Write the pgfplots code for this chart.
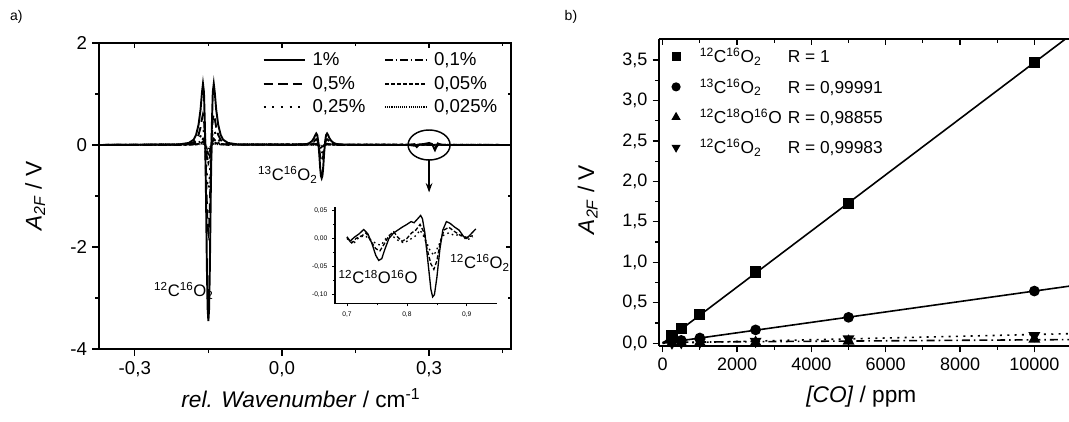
\documentclass[border=0pt]{standalone}
\usepackage{fontspec}
\setmainfont{Liberation Sans}
\usepackage{pgfplots}
\pgfplotsset{compat=1.18}
\usetikzlibrary{arrows.meta}

\begin{document}
\begin{tikzpicture}
\useasboundingbox (0,0) rectangle (801.75pt,315.75pt);
\pgfplotsset{
  every axis/.append style={
    scale only axis,
    scaled ticks=false,
    /pgf/number format/assume math mode=true,
    /pgf/number format/use comma,
    /pgf/number format/1000 sep={},
  },
}
% panel labels
\node[anchor=west, font=\fontsize{10.5}{12}\selectfont] at (4pt,303pt) {a)};
\node[anchor=west, font=\fontsize{10.5}{12}\selectfont] at (420pt,303pt) {b)};

% ---------------- left panel ----------------
\begin{axis}[
  at={(74.25pt,54pt)}, anchor=south west,
  width=309pt, height=229.5pt,
  xmin=-0.373, xmax=0.467, ymin=-4, ymax=2,
  xtick={-0.3,0,0.3}, minor xtick={-0.15,0.15,0.45},
  ytick={-4,-2,0,2}, minor ytick={-3,-1,1},
  xtick pos=left, ytick pos=left, tick align=outside,
  major tick length=5pt, minor tick length=3pt,
  xticklabel style={/pgf/number format/.cd, fixed, fixed zerofill, precision=1},
  tick label style={font=\fontsize{14}{16}\selectfont},
  axis line style={line width=1.5pt},
  every tick/.style={black, line width=0.9pt},
  xlabel={\textit{rel. Wavenumber} / cm\textsuperscript{-1}},
  ylabel={\textit{A}\textsubscript{\textit{2F}} / V},
  xlabel style={font=\fontsize{17}{19}\selectfont, at={(axis description cs:0.49,-0.16)}, anchor=center},
  ylabel style={font=\fontsize{17}{19}\selectfont, at={(axis description cs:-0.155,0.5)}, anchor=center},
  legend columns=2,
  legend style={draw=none, fill=none, at={(0.385,0.99)}, anchor=north west,
    font=\fontsize{14}{16}\selectfont, row sep=2.5pt, cells={anchor=west},
    /tikz/every odd column/.append style={column sep=3pt},
    /tikz/every even column/.append style={column sep=12pt}},
  legend image code/.code={\draw[#1] (0pt,0pt) -- (31pt,0pt);},
  line width=1.45pt,
]
% 1%
\addplot[black, solid] coordinates {
(-0.373,0) (-0.210,0.010) (-0.190,0.041) (-0.180,0.104) (-0.175,0.200) (-0.170,0.400) (-0.166,0.690) (-0.163,1.035) (-0.161,1.200) (-0.159,1.035) (-0.157,0.345) (-0.155,-0.863) (-0.153,-2.415) (-0.1515,-3.209) (-0.150,-3.450) (-0.1485,-3.209) (-0.147,-2.415) (-0.145,-0.863) (-0.143,0.345) (-0.141,1.035) (-0.139,1.200) (-0.137,1.035) (-0.134,0.690) (-0.130,0.400) (-0.125,0.200) (-0.120,0.104) (-0.110,0.041) (-0.090,0.010)
(0.021,0.002) (0.041,0.008) (0.051,0.020) (0.056,0.038) (0.061,0.075) (0.065,0.130) (0.068,0.195) (0.070,0.226) (0.072,0.195) (0.074,0.065) (0.076,-0.163) (0.078,-0.455) (0.0795,-0.605) (0.081,-0.650) (0.0825,-0.605) (0.084,-0.455) (0.086,-0.163) (0.088,0.065) (0.090,0.195) (0.092,0.226) (0.094,0.195) (0.097,0.130) (0.101,0.075) (0.106,0.038) (0.111,0.020) (0.121,0.008) (0.141,0.002)
(0.260,0) (0.270,0.015) (0.275,-0.040) (0.280,0.010) (0.290,0.020) (0.300,0.040) (0.306,0.020) (0.312,-0.100) (0.318,0.030) (0.325,0) (0.467,0)};
\addlegendentry{1\%}
% 0.1%
\addplot[black, dash pattern=on 6pt off 2pt on 1.2pt off 2pt] coordinates {
(-0.373,0) (-0.190,0.004) (-0.175,0.020) (-0.166,0.069) (-0.161,0.120) (-0.157,0.035) (-0.155,-0.086) (-0.153,-0.242) (-0.150,-0.345) (-0.147,-0.242) (-0.145,-0.086) (-0.143,0.035) (-0.139,0.120) (-0.134,0.069) (-0.125,0.020) (-0.110,0.004)
(0.065,0.013) (0.070,0.023) (0.074,0.007) (0.078,-0.046) (0.081,-0.065) (0.084,-0.046) (0.088,0.007) (0.092,0.023) (0.097,0.013) (0.110,0) (0.467,0)};
\addlegendentry{0,1\%}
% 0.5%
\addplot[black, dash pattern=on 7pt off 4pt] coordinates {
(-0.373,0) (-0.210,0.005) (-0.190,0.021) (-0.180,0.052) (-0.175,0.100) (-0.170,0.200) (-0.166,0.345) (-0.163,0.518) (-0.161,0.600) (-0.159,0.518) (-0.157,0.173) (-0.155,-0.432) (-0.153,-1.208) (-0.1515,-1.605) (-0.150,-1.725) (-0.1485,-1.605) (-0.147,-1.208) (-0.145,-0.432) (-0.143,0.173) (-0.141,0.518) (-0.139,0.600) (-0.137,0.518) (-0.134,0.345) (-0.130,0.200) (-0.125,0.100) (-0.120,0.052) (-0.110,0.021) (-0.090,0.005)
(0.041,0.004) (0.051,0.010) (0.056,0.019) (0.061,0.038) (0.065,0.065) (0.068,0.098) (0.070,0.113) (0.072,0.098) (0.074,0.033) (0.076,-0.082) (0.078,-0.228) (0.0795,-0.303) (0.081,-0.325) (0.0825,-0.303) (0.084,-0.228) (0.086,-0.082) (0.088,0.033) (0.090,0.098) (0.092,0.113) (0.094,0.098) (0.097,0.065) (0.101,0.038) (0.106,0.019) (0.111,0.010) (0.121,0.004)
(0.260,0) (0.275,-0.020) (0.290,0.010) (0.300,0.020) (0.312,-0.055) (0.320,0.015) (0.330,0) (0.467,0)};
\addlegendentry{0,5\%}
% 0.05%
\addplot[black, dash pattern=on 3pt off 1.5pt] coordinates {
(-0.373,0) (-0.175,0.010) (-0.166,0.035) (-0.161,0.060) (-0.157,0.017) (-0.155,-0.043) (-0.153,-0.121) (-0.150,-0.173) (-0.147,-0.121) (-0.145,-0.043) (-0.143,0.017) (-0.139,0.060) (-0.134,0.035) (-0.125,0.010)
(0.070,0.011) (0.078,-0.023) (0.081,-0.033) (0.084,-0.023) (0.092,0.011) (0.467,0)};
\addlegendentry{0,05\%}
% 0.25%
\addplot[black, dash pattern=on 1.5pt off 5pt] coordinates {
(-0.373,0) (-0.190,0.010) (-0.175,0.050) (-0.166,0.173) (-0.163,0.259) (-0.161,0.300) (-0.159,0.259) (-0.157,0.086) (-0.155,-0.216) (-0.153,-0.604) (-0.1515,-0.802) (-0.150,-0.863) (-0.1485,-0.802) (-0.147,-0.604) (-0.145,-0.216) (-0.143,0.086) (-0.141,0.259) (-0.139,0.300) (-0.137,0.259) (-0.134,0.173) (-0.125,0.050) (-0.110,0.010)
(0.056,0.010) (0.065,0.033) (0.070,0.057) (0.074,0.016) (0.076,-0.041) (0.078,-0.114) (0.081,-0.163) (0.084,-0.114) (0.086,-0.041) (0.088,0.016) (0.092,0.057) (0.097,0.033) (0.106,0.010) (0.467,0)};
\addlegendentry{0,25\%}
% 0.025%
\addplot[black, dash pattern=on 0.8pt off 0.8pt] coordinates {
(-0.373,0) (-0.166,0.017) (-0.161,0.030) (-0.157,0.009) (-0.155,-0.022) (-0.153,-0.060) (-0.150,-0.086) (-0.147,-0.060) (-0.145,-0.022) (-0.143,0.009) (-0.139,0.030) (-0.134,0.017)
(0.070,0.006) (0.081,-0.016) (0.092,0.006) (0.467,0)};
\addlegendentry{0,025\%}

\node[font=\fontsize{12.5}{14}\selectfont] at (axis cs:-0.200,-2.86) {\textsuperscript{12}C\textsuperscript{16}O\textsubscript{2}};
\node[font=\fontsize{12.5}{14}\selectfont] at (axis cs:0.012,-0.59) {\textsuperscript{13}C\textsuperscript{16}O\textsubscript{2}};
\node[font=\fontsize{12.5}{14}\selectfont] at (axis cs:0.196,-2.59) {\textsuperscript{12}C\textsuperscript{18}O\textsuperscript{16}O};
\node[font=\fontsize{12.5}{14}\selectfont] at (axis cs:0.404,-2.31) {\textsuperscript{12}C\textsuperscript{16}O\textsubscript{2}};
\draw[line width=1.1pt] (axis cs:0.3,0) ellipse [x radius=15.75pt, y radius=11.25pt];
\draw[line width=1.1pt, -{Stealth[length=7pt,width=5pt]}] (axis cs:0.3,-0.29) -- (axis cs:0.3,-0.93);
\end{axis}

% mirror ticks (inside) for left panel
\begin{axis}[
  at={(74.25pt,54pt)}, anchor=south west,
  width=309pt, height=229.5pt,
  xmin=-0.373, xmax=0.467, ymin=-4, ymax=2,
  xtick={-0.3,0,0.3}, minor xtick={-0.15,0.15,0.45},
  ytick={-4,-2,0,2}, minor ytick={-3,-1,1},
  xtick pos=right, ytick pos=right, tick align=inside,
  major tick length=4pt, minor tick length=2.5pt,
  xticklabels={}, yticklabels={},
  axis line style={line width=1.5pt},
  every tick/.style={black, line width=0.9pt},
]
\end{axis}

% inset
\begin{axis}[
  at={(251.25pt,88pt)}, anchor=south west,
  width=121.3pt, height=72.5pt,
  xmin=0.68, xmax=0.95, ymin=-0.116, ymax=0.056,
  axis x line*=bottom, axis y line*=left,
  xtick={0.7,0.8,0.9}, ytick={-0.1,-0.05,0,0.05},
  minor x tick num=1, minor y tick num=1,
  tick align=outside, major tick length=2pt, minor tick length=1.2pt,
  tick label style={font=\fontsize{5}{6}\selectfont},
  xticklabel style={/pgf/number format/.cd, fixed, fixed zerofill, precision=1},
  yticklabel style={/pgf/number format/.cd, fixed, fixed zerofill, precision=2},
  axis line style={line width=0.8pt},
  every tick/.style={black, line width=0.5pt},
  line width=1pt,
]
\addplot[black, solid] coordinates {
(0.700,0.003)(0.705,-0.005)(0.712,0.002)(0.720,0.008)(0.728,0.016)(0.735,0.008)(0.742,-0.010)(0.748,-0.030)(0.753,-0.039)(0.758,-0.036)(0.763,-0.020)(0.770,0.000)(0.778,0.010)(0.785,0.015)(0.792,0.020)(0.800,0.025)(0.807,0.030)(0.812,0.028)(0.818,0.035)(0.823,0.041)(0.826,0.035)(0.830,0.010)(0.835,-0.040)(0.840,-0.090)(0.843,-0.104)(0.846,-0.100)(0.850,-0.070)(0.855,-0.020)(0.860,0.015)(0.866,0.030)(0.872,0.027)(0.880,0.020)(0.887,0.015)(0.895,0.003)(0.900,0.000)(0.907,0.008)(0.915,0.017)};
\addplot[black, dash pattern=on 3pt off 1.5pt] coordinates {
(0.700,0.002)(0.708,-0.008)(0.715,0.000)(0.725,0.005)(0.732,0.010)(0.740,-0.005)(0.748,-0.018)(0.755,-0.022)(0.762,-0.010)(0.770,0.005)(0.778,0.012)(0.785,0.002)(0.792,-0.005)(0.800,0.000)(0.808,0.010)(0.815,0.015)(0.822,0.025)(0.828,0.012)(0.834,-0.020)(0.840,-0.045)(0.845,-0.055)(0.850,-0.040)(0.856,-0.005)(0.862,0.015)(0.870,0.020)(0.880,0.012)(0.890,0.005)(0.900,0.002)(0.910,0.005)};
\addplot[black, dash pattern=on 1.2pt off 2.5pt] coordinates {
(0.700,0.000)(0.710,-0.010)(0.720,0.002)(0.730,0.005)(0.740,-0.003)(0.750,-0.010)(0.757,-0.012)(0.765,0.000)(0.775,0.005)(0.785,-0.003)(0.795,-0.008)(0.805,-0.002)(0.815,0.005)(0.822,0.015)(0.830,0.000)(0.838,-0.020)(0.845,-0.030)(0.852,-0.015)(0.860,0.005)(0.870,0.010)(0.880,0.005)(0.890,0.008)(0.900,-0.003)(0.910,0.003)};
\end{axis}

% ---------------- right panel ----------------
\begin{axis}[
  at={(494.5pt,56.5pt)}, anchor=south west,
  width=307.3pt, height=229.8pt,
  xmin=-90, xmax=10934, ymin=-0.03, ymax=3.756,
  axis x line*=box, axis y line*=left,
  xtick={0,2000,4000,6000,8000,10000}, minor x tick num=1,
  ytick={0,0.5,1,1.5,2,2.5,3,3.5}, minor y tick num=1,
  xtick pos=left, tick align=outside,
  major tick length=5pt, minor tick length=3pt,
  xticklabel style={/pgf/number format/.cd, fixed, precision=0},
  yticklabel style={/pgf/number format/.cd, fixed, fixed zerofill, precision=1},
  tick label style={font=\fontsize{13.5}{15}\selectfont},
  axis line style={line width=1.5pt},
  every tick/.style={black, line width=0.9pt},
  xlabel={\textit{[CO]} / ppm},
  ylabel={\textit{A}\textsubscript{\textit{2F}} / V},
  xlabel style={font=\fontsize{17}{19}\selectfont, at={(axis description cs:0.493,-0.166)}, anchor=center},
  ylabel style={font=\fontsize{17}{19}\selectfont, at={(axis description cs:-0.175,0.477)}, anchor=center},
  legend style={draw=none, fill=none, at={(0.02,0.99)}, anchor=north west,
    font=\fontsize{13}{15}\selectfont, row sep=6.5pt, cells={anchor=west},
    /tikz/every odd column/.append style={column sep=13pt}},
  legend image post style={mark size=2.8pt},
  line width=1.2pt,
]
\addplot[black, only marks, mark=square*, mark size=3.6pt] coordinates {(250,0.09)(500,0.18)(1000,0.36)(2500,0.88)(5000,1.73)(10000,3.47)};
\addlegendentry{\makebox[66pt][l]{\textsuperscript{12}C\textsuperscript{16}O\textsubscript{2}}R = 1}
\addplot[black, only marks, mark=*, mark size=3.4pt] coordinates {(250,0.02)(500,0.035)(1000,0.065)(2500,0.165)(5000,0.32)(10000,0.645)};
\addlegendentry{\makebox[66pt][l]{\textsuperscript{13}C\textsuperscript{16}O\textsubscript{2}}R = 0,99991}
\addplot[black, only marks, mark=triangle*, mark size=4pt] coordinates {(250,0.0)(500,0.005)(1000,0.01)(2500,0.01)(5000,0.025)(10000,0.05)};
\addlegendentry{\makebox[66pt][l]{\textsuperscript{12}C\textsuperscript{18}O\textsuperscript{16}O}R = 0,98855}
\addplot[black, only marks, mark=triangle*, mark options={rotate=180}, mark size=4pt] coordinates {(250,0.005)(500,0.01)(1000,0.015)(2500,0.025)(5000,0.055)(10000,0.095)};
\addlegendentry{\makebox[66pt][l]{\textsuperscript{12}C\textsuperscript{16}O\textsubscript{2}}R = 0,99983}
\addplot[black, solid, forget plot] coordinates {(0,0.0)(10934,3.793)};
\addplot[black, solid, forget plot] coordinates {(0,0.0)(10934,0.705)};
\addplot[black, dash pattern=on 6pt off 3pt on 1.2pt off 3pt, forget plot] coordinates {(0,0.012)(10934,0.045)};
\addplot[black, dash pattern=on 1.5pt off 4pt, forget plot] coordinates {(0,0.0)(10934,0.118)};
\end{axis}

% top mirror ticks for right panel
\begin{axis}[
  at={(494.5pt,56.5pt)}, anchor=south west,
  width=307.3pt, height=229.8pt,
  xmin=-90, xmax=10934, ymin=-0.03, ymax=3.756,
  axis x line*=top, axis y line=none,
  xtick={0,2000,4000,6000,8000,10000}, minor x tick num=1,
  tick align=inside, major tick length=4pt, minor tick length=2.5pt,
  xticklabels={},
  axis line style={line width=1.5pt},
  every tick/.style={black, line width=0.9pt},
]
\end{axis}
\end{tikzpicture}
\end{document}
